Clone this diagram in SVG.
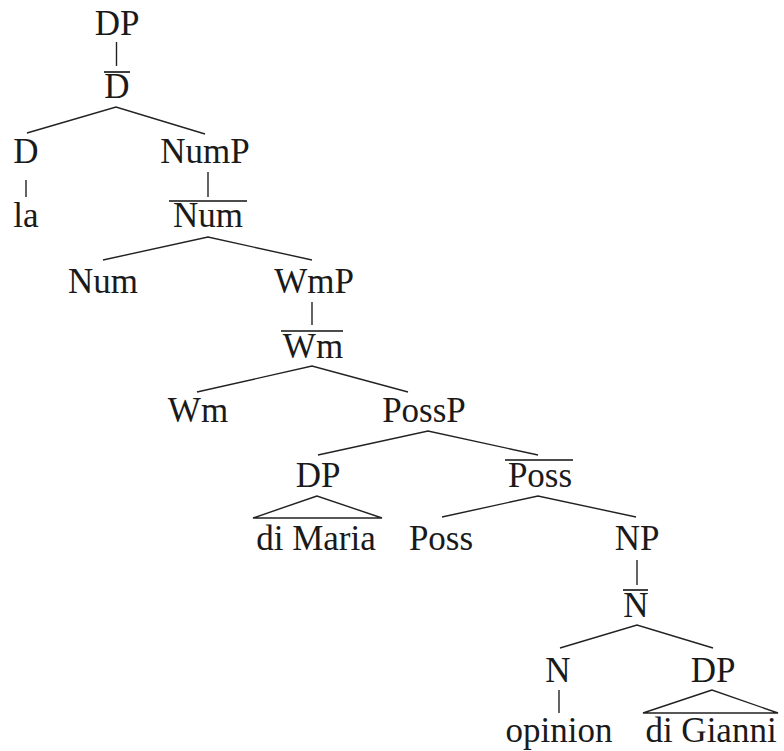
<svg xmlns="http://www.w3.org/2000/svg" width="784" height="751" viewBox="0 0 784 751">
<style>
text{font-family:"Liberation Serif","Times New Roman",serif;font-size:35px;fill:#1a1a1a;text-anchor:middle}
.e{stroke:#222;stroke-width:1.4;fill:none}
.bar{stroke:#111;stroke-width:1.6}
</style>
<rect width="784" height="751" fill="#fff"/>
<g id="connectors">
<line class="e" x1="116.5" y1="42" x2="116.5" y2="66"/>
<polyline class="e" points="27,133 116,107 205,134"/>
<line class="e" x1="26" y1="180" x2="26" y2="197"/>
<line class="e" x1="208" y1="172" x2="208" y2="197"/>
<polyline class="e" points="103,260 208,237 312,260"/>
<line class="e" x1="312" y1="302" x2="312" y2="325"/>
<polyline class="e" points="197,392 312,366 408,392"/>
<polyline class="e" points="318,455 428,431 538,455"/>
<polygon class="e" points="317,496 253,518 382,518"/>
<polyline class="e" points="442,517 538,496 636,517"/>
<line class="e" x1="637" y1="560" x2="637" y2="585"/>
<polyline class="e" points="560,648 637,625 713,648"/>
<line class="e" x1="559" y1="690" x2="559" y2="713"/>
<polygon class="e" points="712,690 643,713 778,713"/>
</g>
<g id="DP-root"><text x="117" y="35">DP</text></g>
<g id="Dbar"><line class="bar" x1="104" y1="72" x2="130" y2="72"/><text x="117" y="98">D</text></g>
<g id="D"><text x="26" y="163">D</text></g>
<g id="la"><text x="26" y="227">la</text></g>
<g id="NumP"><text x="205" y="163">NumP</text></g>
<g id="Numbar"><line class="bar" x1="169" y1="201" x2="247" y2="201"/><text x="208" y="227">Num</text></g>
<g id="Num"><text x="103" y="293">Num</text></g>
<g id="WmP"><text x="314" y="293">WmP</text></g>
<g id="Wmbar"><line class="bar" x1="281" y1="331" x2="343" y2="331"/><text x="313" y="358">Wm</text></g>
<g id="Wm"><text x="198" y="422">Wm</text></g>
<g id="PossP"><text x="424" y="422">PossP</text></g>
<g id="DP-Maria"><text x="318" y="487">DP</text></g>
<g id="Possbar"><line class="bar" x1="505" y1="460" x2="573" y2="460"/><text x="540" y="487">Poss</text></g>
<g id="di-Maria"><text x="316" y="550">di Maria</text></g>
<g id="Poss"><text x="441" y="550">Poss</text></g>
<g id="NP"><text x="637" y="550">NP</text></g>
<g id="Nbar"><line class="bar" x1="623" y1="590" x2="648" y2="590"/><text x="636" y="617">N</text></g>
<g id="N"><text x="558" y="682">N</text></g>
<g id="DP-Gianni"><text x="713" y="682">DP</text></g>
<g id="opinion"><text x="559" y="742">opinion</text></g>
<g id="di-Gianni"><text x="711" y="742">di Gianni</text></g>
</svg>
